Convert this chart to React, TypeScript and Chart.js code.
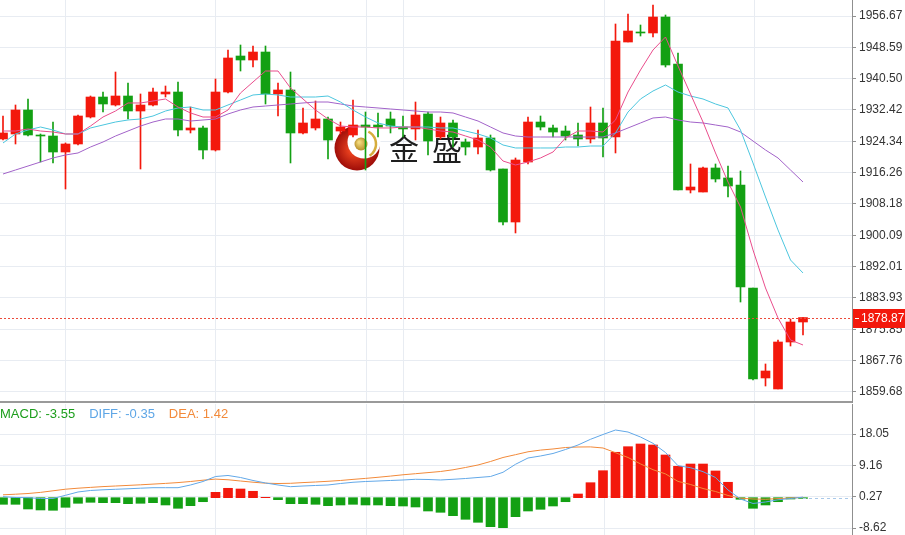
import React, { useEffect, useRef } from 'react';
import { Chart, registerables } from 'chart.js';

Chart.register(...registerables);

// ---- Price data (65 candles) ----
const opens = [1924.94, 1926.23, 1932.42, 1925.97, 1925.71, 1921.58, 1923.65, 1930.61, 1935.77, 1933.71, 1936.03, 1932.16, 1933.71, 1936.55, 1937.06, 1927.26, 1927.78, 1922.10, 1937.06, 1946.35, 1945.32, 1947.38, 1936.55, 1937.58, 1926.49, 1927.78, 1930.10, 1927.00, 1925.97, 1928.55, 1928.55, 1930.10, 1928.03, 1927.52, 1931.39, 1925.45, 1929.07, 1924.16, 1922.87, 1925.20, 1917.20, 1903.52, 1919.00, 1929.32, 1927.78, 1927.00, 1925.97, 1924.94, 1929.07, 1925.45, 1949.96, 1952.54, 1952.29, 1956.41, 1944.29, 1911.78, 1911.26, 1917.46, 1914.88, 1913.07, 1886.50, 1863.28, 1860.44, 1872.56, 1877.72];
const highs = [1930.87, 1933.71, 1935.26, 1926.23, 1929.32, 1923.91, 1931.13, 1936.03, 1937.06, 1942.22, 1939.39, 1936.55, 1938.10, 1938.61, 1939.64, 1933.19, 1928.29, 1940.42, 1947.90, 1949.19, 1948.93, 1948.93, 1939.39, 1942.22, 1932.94, 1934.74, 1930.61, 1929.32, 1935.00, 1931.90, 1931.64, 1931.90, 1930.87, 1934.48, 1931.90, 1930.61, 1929.84, 1924.94, 1927.26, 1925.97, 1917.20, 1920.04, 1930.61, 1930.87, 1928.55, 1928.29, 1929.07, 1933.19, 1932.94, 1954.61, 1957.19, 1954.35, 1959.51, 1956.93, 1947.13, 1918.49, 1917.71, 1918.49, 1917.97, 1916.68, 1886.50, 1866.89, 1873.08, 1878.50, 1878.87];
const lows = [1924.68, 1923.65, 1925.71, 1919.00, 1918.75, 1912.04, 1923.39, 1930.36, 1931.90, 1933.45, 1930.10, 1917.20, 1933.45, 1935.77, 1925.71, 1926.49, 1919.78, 1921.84, 1936.80, 1942.48, 1943.51, 1933.97, 1930.87, 1918.75, 1926.23, 1927.26, 1919.78, 1926.23, 1925.45, 1916.94, 1925.45, 1926.49, 1925.45, 1924.68, 1920.81, 1924.94, 1922.87, 1920.81, 1921.07, 1916.68, 1902.75, 1900.69, 1918.49, 1927.26, 1925.45, 1924.68, 1923.13, 1923.91, 1920.29, 1921.33, 1949.96, 1951.51, 1951.25, 1943.51, 1911.78, 1911.01, 1911.26, 1913.84, 1909.97, 1882.88, 1862.76, 1861.21, 1860.44, 1871.53, 1874.37];
const closes = [1926.49, 1932.42, 1925.97, 1925.71, 1921.58, 1923.65, 1930.87, 1935.77, 1933.97, 1936.03, 1932.16, 1933.71, 1937.06, 1937.06, 1927.26, 1927.78, 1922.10, 1937.06, 1945.84, 1945.32, 1947.38, 1936.55, 1937.58, 1926.49, 1929.07, 1930.10, 1924.68, 1928.03, 1928.55, 1928.03, 1928.03, 1928.29, 1927.52, 1931.13, 1924.42, 1929.07, 1925.45, 1922.87, 1925.20, 1916.94, 1903.52, 1919.52, 1929.32, 1928.03, 1926.74, 1925.71, 1924.94, 1929.07, 1925.20, 1950.22, 1952.80, 1952.29, 1956.41, 1944.03, 1911.78, 1912.55, 1917.46, 1914.62, 1912.81, 1886.75, 1863.02, 1865.08, 1872.56, 1877.72, 1878.87];

const ma5 = [1927.00, 1927.00, 1927.52, 1927.00, 1926.74, 1926.23, 1926.23, 1928.29, 1930.61, 1932.16, 1934.23, 1934.23, 1934.74, 1935.26, 1933.19, 1931.65, 1930.61, 1930.61, 1932.42, 1936.81, 1939.64, 1942.48, 1942.48, 1938.10, 1935.26, 1932.42, 1930.10, 1928.29, 1928.03, 1928.03, 1927.78, 1927.78, 1928.03, 1928.03, 1927.52, 1927.00, 1926.74, 1925.71, 1924.68, 1922.87, 1919.26, 1918.23, 1919.00, 1920.04, 1921.58, 1925.20, 1927.00, 1927.00, 1926.74, 1929.84, 1937.06, 1942.74, 1947.90, 1951.25, 1943.77, 1936.55, 1929.32, 1921.33, 1913.84, 1907.39, 1896.30, 1886.50, 1878.76, 1873.08, 1871.79];
const ma10 = [1923.91, 1926.23, 1927.26, 1928.03, 1927.26, 1926.23, 1926.23, 1927.78, 1928.55, 1929.32, 1929.84, 1930.10, 1930.87, 1932.16, 1932.94, 1933.19, 1932.42, 1932.42, 1933.71, 1935.00, 1936.29, 1936.55, 1936.29, 1935.77, 1935.77, 1935.77, 1936.03, 1934.48, 1932.42, 1930.61, 1929.07, 1928.29, 1928.03, 1928.03, 1928.03, 1927.78, 1927.78, 1927.00, 1926.23, 1925.20, 1923.39, 1922.62, 1922.62, 1922.62, 1922.62, 1922.87, 1922.87, 1923.13, 1923.13, 1926.49, 1931.90, 1935.26, 1937.32, 1938.87, 1937.06, 1936.03, 1935.26, 1933.97, 1932.94, 1927.26, 1918.75, 1909.97, 1901.46, 1893.72, 1890.37];
const ma20 = [1915.91, 1916.94, 1917.97, 1919.00, 1920.04, 1920.81, 1921.33, 1922.87, 1924.16, 1925.71, 1927.00, 1928.29, 1929.32, 1930.10, 1930.10, 1929.58, 1929.84, 1930.10, 1931.39, 1932.42, 1933.19, 1933.45, 1933.71, 1933.97, 1934.23, 1934.48, 1934.48, 1933.97, 1933.45, 1933.19, 1932.94, 1932.68, 1932.42, 1932.16, 1931.90, 1931.90, 1931.65, 1930.61, 1929.58, 1928.03, 1926.49, 1925.71, 1925.45, 1925.45, 1925.45, 1925.45, 1925.45, 1925.45, 1925.45, 1926.49, 1927.78, 1929.07, 1930.36, 1930.61, 1929.84, 1929.32, 1929.07, 1928.55, 1928.03, 1926.74, 1924.42, 1922.10, 1920.04, 1916.94, 1913.84];

// ---- MACD data ----
const macdHist = [-1.88, -1.88, -3.21, -3.49, -3.58, -2.73, -1.59, -1.31, -1.42, -1.42, -1.70, -1.59, -1.42, -2.07, -3.01, -2.27, -1.14, 1.53, 2.67, 2.47, 1.82, 0.11, -0.57, -1.70, -1.70, -1.88, -2.27, -2.07, -1.88, -2.07, -2.07, -2.27, -2.36, -2.64, -3.78, -4.15, -5.11, -6.14, -6.99, -8.24, -8.52, -5.40, -3.78, -3.30, -2.36, -1.14, 1.05, 4.26, 7.67, 12.90, 14.49, 15.26, 14.97, 12.13, 8.92, 9.57, 9.57, 7.59, 4.38, -0.45, -3.01, -2.07, -1.14, -0.37, -0.20];
const diffLine = [0.28, 0.06, 0.00, -0.23, -0.23, 0.68, 1.62, 2.05, 2.24, 2.39, 2.53, 2.70, 2.84, 2.84, 2.84, 3.61, 4.60, 6.02, 6.31, 5.74, 4.89, 4.18, 3.61, 3.13, 3.32, 3.47, 3.61, 4.03, 4.38, 4.60, 4.74, 4.89, 5.03, 5.23, 5.17, 5.03, 5.23, 5.45, 5.74, 6.02, 7.22, 9.49, 11.28, 11.85, 12.56, 13.69, 14.97, 16.59, 17.95, 19.23, 18.66, 17.24, 15.45, 12.84, 9.09, 8.52, 7.39, 5.74, 2.19, -0.37, -1.65, -1.22, -0.60, -0.23, 0.15];
const deaLine = [0.82, 0.99, 1.19, 1.51, 1.96, 2.41, 2.70, 2.93, 3.15, 3.32, 3.49, 3.66, 3.86, 4.06, 4.29, 4.60, 4.97, 5.28, 5.09, 4.74, 4.40, 4.12, 4.03, 4.09, 4.29, 4.46, 4.66, 4.89, 5.20, 5.48, 5.80, 6.14, 6.51, 6.82, 7.13, 7.44, 7.93, 8.58, 9.29, 10.28, 11.42, 12.22, 13.04, 13.52, 13.84, 14.26, 14.40, 14.43, 14.12, 12.78, 11.42, 9.60, 7.95, 6.76, 4.63, 3.75, 2.61, 1.76, 0.63, -0.14, -0.37, -0.45, -0.26, -0.09, 0.09];

// ---- Axis ticks / labels ----
const priceTicks = [1956.67, 1948.59, 1940.50, 1932.42, 1924.34, 1916.26, 1908.18, 1900.09, 1892.01, 1883.93, 1875.85, 1867.76, 1859.68];
const macdTicks = [18.05, 9.16, 0.27, -8.62];
const sessionBreaks = [5, 17, 29.1, 32, 48.1, 60.1];
const lastPrice = 1878.87;
const macdLegend = [
  { text: 'MACD: -3.55', color: '#1c9e1c' },
  { text: 'DIFF: -0.35', color: '#5ea6e6' },
  { text: 'DEA: 1.42', color: '#f28a3a' },
];
const watermark = ['金', '盛'];

const RED = '#f3180c';
const GREEN = '#13a013';
const GRID = '#e8ecf2';
const AXIS = '#8f8f8f';
const FONT = 'Liberation Sans';

export default function App() {
  const topRef = useRef<HTMLCanvasElement>(null);
  const botRef = useRef<HTMLCanvasElement>(null);

  useEffect(() => {
    const idx = closes.map((_, i) => i);
    const colors = idx.map((i) => (closes[i] >= opens[i] ? RED : GREEN));

    const xScale = (border: boolean) => ({
      type: 'linear' as const,
      min: -0.24,
      max: 67.92,
      offset: false,
      afterBuildTicks: (s: any) => {
        s.ticks = sessionBreaks.map((v) => ({ value: v }));
      },
      ticks: { display: false },
      grid: { color: GRID, drawTicks: false, offset: false },
      border: { display: border, color: '#9a9a9a', width: 2 },
    });

    const yScale = (min: number, max: number, ticks: number[]) => ({
      position: 'right' as const,
      min,
      max,
      afterBuildTicks: (s: any) => {
        s.ticks = ticks.map((v) => ({ value: v }));
      },
      afterFit: (s: any) => {
        s.width = 53;
        s.paddingTop = 0;
        s.paddingBottom = 0;
      },
      ticks: {
        autoSkip: false,
        padding: 3,
        color: '#333',
        font: { family: FONT, size: 12 },
        callback: (v: any) => Number(v).toFixed(2),
      },
      grid: { color: GRID, tickLength: 4, tickColor: AXIS },
      border: { color: AXIS, width: 1 },
    });

    const logoPlugin = {
      id: 'logo',
      beforeDatasetsDraw(chart: any) {
        const ctx = chart.ctx;
        ctx.save();
        const cx = 357, cy = 148;
        const g = ctx.createRadialGradient(cx - 4, cy + 2, 4, cx, cy, 23);
        g.addColorStop(0, '#e8401e');
        g.addColorStop(1, '#9c0c08');
        ctx.fillStyle = g;
        ctx.beginPath();
        ctx.arc(cx, cy, 22.5, 0, Math.PI * 2);
        ctx.fill();
        ctx.fillStyle = '#ffffff';
        ctx.beginPath();
        ctx.arc(cx + 7, cy - 6, 16.5, 0, Math.PI * 2);
        ctx.fill();
        ctx.strokeStyle = '#d6ad3c';
        ctx.lineWidth = 2.5;
        ctx.beginPath();
        ctx.arc(cx + 5, cy - 4, 14, -1.1, 1.0);
        ctx.stroke();
        const gg = ctx.createRadialGradient(cx + 2, cy - 6, 1, cx + 4, cy - 4, 7);
        gg.addColorStop(0, '#f2d87a');
        gg.addColorStop(1, '#b48a22');
        ctx.fillStyle = gg;
        ctx.beginPath();
        ctx.arc(cx + 4, cy - 4, 6.5, 0, Math.PI * 2);
        ctx.fill();
        ctx.fillStyle = '#1e1e1e';
        ctx.font = '30px "Noto Sans CJK SC"';
        ctx.textBaseline = 'alphabetic';
        ctx.fillText(watermark[0], 389, 160);
        ctx.fillText(watermark[1], 432, 160);
        ctx.restore();
      },
    };

    const pricePlugin = {
      id: 'lastPrice',
      afterDraw(chart: any) {
        const ctx = chart.ctx;
        const { left, right } = chart.chartArea;
        const y = Math.round(chart.scales.y.getPixelForValue(lastPrice)) + 0.5;
        ctx.save();
        ctx.strokeStyle = '#ec4a3a';
        ctx.lineWidth = 1;
        ctx.setLineDash([2, 2]);
        ctx.beginPath();
        ctx.moveTo(left, y);
        ctx.lineTo(right, y);
        ctx.stroke();
        ctx.setLineDash([]);
        ctx.fillStyle = RED;
        ctx.fillRect(right + 1, y - 9.5, chart.width - right - 1, 19);
        ctx.strokeStyle = '#ffffff';
        ctx.beginPath();
        ctx.moveTo(right + 3, y);
        ctx.lineTo(right + 7, y);
        ctx.stroke();
        ctx.fillStyle = '#ffffff';
        ctx.font = `12px "${FONT}"`;
        ctx.textBaseline = 'middle';
        ctx.fillText(lastPrice.toFixed(2), right + 9, y + 0.5);
        ctx.restore();
      },
    };

    const top = new Chart(topRef.current!, {
      type: 'bar',
      data: {
        datasets: [
          { type: 'line', label: 'MA5', data: idx.map((i) => ({ x: i, y: ma5[i] })), borderColor: '#e94d8c', borderWidth: 1, pointRadius: 0, tension: 0, order: 0 } as any,
          { type: 'line', label: 'MA10', data: idx.map((i) => ({ x: i, y: ma10[i] })), borderColor: '#4cc6de', borderWidth: 1, pointRadius: 0, tension: 0, order: 0 } as any,
          { type: 'line', label: 'MA20', data: idx.map((i) => ({ x: i, y: ma20[i] })), borderColor: '#a263c9', borderWidth: 1, pointRadius: 0, tension: 0, order: 0 } as any,
          { type: 'bar', label: 'body', data: idx.map((i) => ({ x: i, y: [opens[i], closes[i]] })), backgroundColor: colors, barThickness: 9, grouped: false, minBarLength: 1, order: 2 } as any,
          { type: 'bar', label: 'wick', data: idx.map((i) => ({ x: i, y: [lows[i], highs[i]] })), backgroundColor: colors, barThickness: 1, grouped: false, order: 3 } as any,
        ],
      },
      options: {
        responsive: false,
        animation: false,
        events: [],
        layout: { padding: { left: 0, right: 0, top: 0, bottom: 2 } },
        plugins: { legend: { display: false }, tooltip: { enabled: false } },
        scales: {
          x: xScale(true),
          y: yScale(1857.08, 1960.8, priceTicks),
        } as any,
      },
      plugins: [logoPlugin, pricePlugin],
    });

    const macdPlugin = {
      id: 'macdLegend',
      afterDraw(chart: any) {
        const ctx = chart.ctx;
        ctx.save();
        ctx.font = `13px "${FONT}"`;
        ctx.textBaseline = 'middle';
        let x = 0;
        for (const item of macdLegend) {
          ctx.fillStyle = item.color;
          ctx.fillText(item.text, x, 10);
          x += ctx.measureText(item.text).width + 14;
        }
        const xs = chart.scales.x;
        const ys = chart.scales.y;
        const y0 = Math.round(ys.getPixelForValue(0)) + 0.5;
        ctx.strokeStyle = '#a9c9ea';
        ctx.lineWidth = 1;
        ctx.setLineDash([3, 3]);
        ctx.beginPath();
        ctx.moveTo(xs.getPixelForValue(closes.length - 1), y0);
        ctx.lineTo(chart.chartArea.right, y0);
        ctx.stroke();
        ctx.restore();
      },
    };

    const bot = new Chart(botRef.current!, {
      type: 'bar',
      data: {
        datasets: [
          { type: 'line', label: 'DIFF', data: idx.map((i) => ({ x: i, y: diffLine[i] })), borderColor: '#62a8e8', borderWidth: 1, pointRadius: 0, tension: 0, order: 0 } as any,
          { type: 'line', label: 'DEA', data: idx.map((i) => ({ x: i, y: deaLine[i] })), borderColor: '#f28a3a', borderWidth: 1, pointRadius: 0, tension: 0, order: 0 } as any,
          { type: 'bar', label: 'MACD', data: idx.map((i) => ({ x: i, y: macdHist[i] })), backgroundColor: idx.map((i) => (macdHist[i] >= 0 ? RED : GREEN)), barThickness: 9, grouped: false, order: 2 } as any,
        ],
      },
      options: {
        responsive: false,
        animation: false,
        events: [],
        layout: { padding: 0 },
        plugins: { legend: { display: false }, tooltip: { enabled: false } },
        scales: {
          x: xScale(false),
          y: yScale(-10.6, 26.62, macdTicks),
        } as any,
      },
      plugins: [macdPlugin],
    });

    return () => {
      top.destroy();
      bot.destroy();
    };
  }, []);

  return (
    <div style={{ position: 'absolute', left: 0, top: 0, width: 905, height: 535, background: '#ffffff' }}>
      <canvas ref={topRef} width={905} height={404} style={{ display: 'block' }} />
      <canvas ref={botRef} width={905} height={131} style={{ display: 'block' }} />
    </div>
  );
}
